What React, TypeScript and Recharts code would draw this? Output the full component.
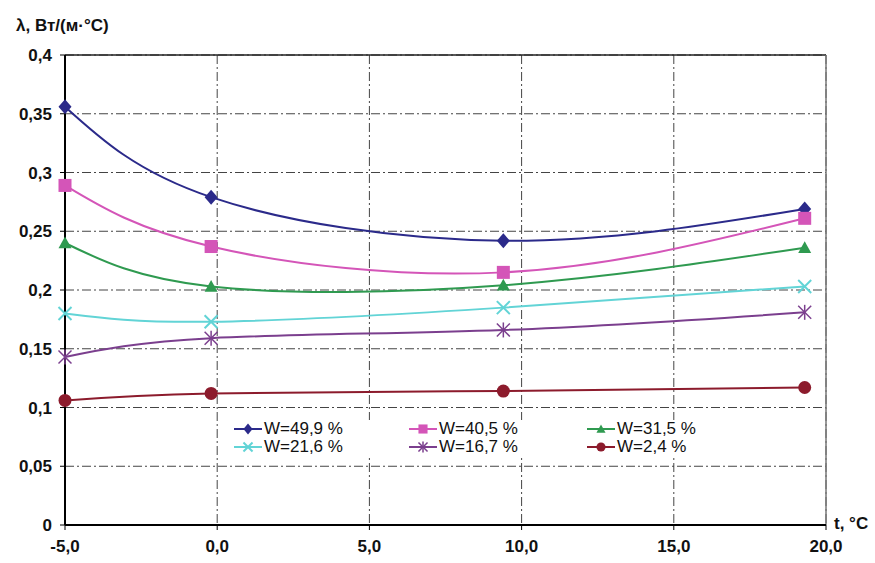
import {
  LineChart,
  Line,
  XAxis,
  YAxis,
  CartesianGrid,
  ReferenceLine,
} from "recharts";

const temps = [-5, -0.2, 9.4, 19.3];
const w499 = [0.356, 0.279, 0.242, 0.269];
const w405 = [0.289, 0.237, 0.215, 0.261];
const w315 = [0.24, 0.203, 0.204, 0.236];
const w216 = [0.18, 0.173, 0.185, 0.203];
const w167 = [0.143, 0.159, 0.166, 0.181];
const w24 = [0.106, 0.112, 0.114, 0.117];

const xTicks = [-5, 0, 5, 10, 15, 20];
const yTicks = [0, 0.05, 0.1, 0.15, 0.2, 0.25, 0.3, 0.35, 0.4];

type Marker = "diamond" | "square" | "triangle" | "cross" | "star" | "circle";

const series: { key: string; name: string; values: number[]; color: string; marker: Marker }[] = [
  { key: "w499", name: "W=49,9 %", values: w499, color: "#2b2a8a", marker: "diamond" },
  { key: "w405", name: "W=40,5 %", values: w405, color: "#d455b8", marker: "square" },
  { key: "w315", name: "W=31,5 %", values: w315, color: "#2f9a50", marker: "triangle" },
  { key: "w216", name: "W=21,6 %", values: w216, color: "#62d4d6", marker: "cross" },
  { key: "w167", name: "W=16,7 %", values: w167, color: "#7b3f8e", marker: "star" },
  { key: "w24", name: "W=2,4 %", values: w24, color: "#8c1b2c", marker: "circle" },
];

const data = temps.map((t, i) => {
  const row: Record<string, number> = { t };
  series.forEach((s) => {
    row[s.key] = s.values[i];
  });
  return row;
});

const comma = (v: number) => String(v).replace(".", ",");

function MarkerShape({ cx, cy, marker, color, size = 1 }: { cx: number; cy: number; marker: Marker; color: string; size?: number }) {
  const r = 6.5 * size;
  switch (marker) {
    case "diamond":
      return <polygon points={`${cx},${cy - r - 1} ${cx + r},${cy} ${cx},${cy + r + 1} ${cx - r},${cy}`} fill={color} />;
    case "square":
      return <rect x={cx - r} y={cy - r} width={r * 2} height={r * 2} fill={color} />;
    case "triangle":
      return <polygon points={`${cx},${cy - r} ${cx + r},${cy + r * 0.8} ${cx - r},${cy + r * 0.8}`} fill={color} />;
    case "cross":
      return (
        <g stroke={color} strokeWidth={2}>
          <line x1={cx - r} y1={cy - r} x2={cx + r} y2={cy + r} />
          <line x1={cx - r} y1={cy + r} x2={cx + r} y2={cy - r} />
        </g>
      );
    case "star":
      return (
        <g stroke={color} strokeWidth={1.5}>
          <line x1={cx - r} y1={cy - r} x2={cx + r} y2={cy + r} />
          <line x1={cx - r} y1={cy + r} x2={cx + r} y2={cy - r} />
          <line x1={cx} y1={cy - r - 1} x2={cx} y2={cy + r + 1} />
        </g>
      );
    default:
      return <circle cx={cx} cy={cy} r={r} fill={color} />;
  }
}

const tickStyle = { fontSize: 17, fontWeight: 700, fill: "#111", fontFamily: "'Liberation Sans', Arial, sans-serif" };

export default function App() {
  return (
    <div style={{ position: "absolute", left: 0, top: 0, width: 875, height: 563, background: "#fff", fontFamily: "'Liberation Sans', Arial, sans-serif" }}>
      <LineChart width={875} height={563} data={data} margin={{ top: 55, right: 49, left: 0, bottom: 0 }}>
        <CartesianGrid stroke="#444" strokeDasharray="9 3 2 3" strokeWidth={1} />
        <XAxis
          dataKey="t"
          type="number"
          domain={[-5, 20]}
          ticks={xTicks}
          tickFormatter={(v: number) => v.toFixed(1).replace(".", ",")}
          tick={tickStyle}
          axisLine={{ stroke: "#000", strokeWidth: 2 }}
          tickLine={{ stroke: "#000" }}
          tickSize={5}
          height={38}
          tickMargin={10}
        />
        <YAxis
          type="number"
          domain={[0, 0.4]}
          ticks={yTicks}
          tickFormatter={comma}
          tick={tickStyle}
          axisLine={{ stroke: "#000", strokeWidth: 2 }}
          tickLine={{ stroke: "#000" }}
          tickSize={5}
          width={65}
          tickMargin={8}
        />
        <ReferenceLine y={0.4} stroke="#222" strokeWidth={1.5} />
        <ReferenceLine x={20} stroke="#777" strokeWidth={1.5} />
        {series.map((s) => (
          <Line
            key={s.key}
            dataKey={s.key}
            name={s.name}
            type="natural"
            stroke={s.color}
            strokeWidth={2}
            isAnimationActive={false}
            activeDot={false}
            dot={(p: any) => <MarkerShape key={`${s.key}-${p.index}`} cx={p.cx} cy={p.cy} marker={s.marker} color={s.color} />}
          />
        ))}
      </LineChart>
      <div style={{ position: "absolute", left: 16, top: 16, fontSize: 17, fontWeight: 700, color: "#111" }}>λ, Вт/(м·°С)</div>
      <div style={{ position: "absolute", left: 834, top: 514, fontSize: 17, fontWeight: 700, color: "#111" }}>t, °C</div>
      <div
        style={{
          position: "absolute",
          left: 233,
          top: 420,
          width: 520,
          display: "grid",
          gridTemplateColumns: "175px 178px 160px",
          rowGap: 0,
          fontSize: 17,
          color: "#111",
          background: "#fff",
        }}
      >
        {series.map((s) => (
          <div key={s.key} style={{ display: "flex", alignItems: "center", height: 18 }}>
            <svg width={30} height={16} style={{ marginRight: 1 }}>
              <line x1={1} y1={8} x2={29} y2={8} stroke={s.color} strokeWidth={2} />
              <MarkerShape cx={15} cy={8} marker={s.marker} color={s.color} size={0.7} />
            </svg>
            <span>{s.name}</span>
          </div>
        ))}
      </div>
    </div>
  );
}
